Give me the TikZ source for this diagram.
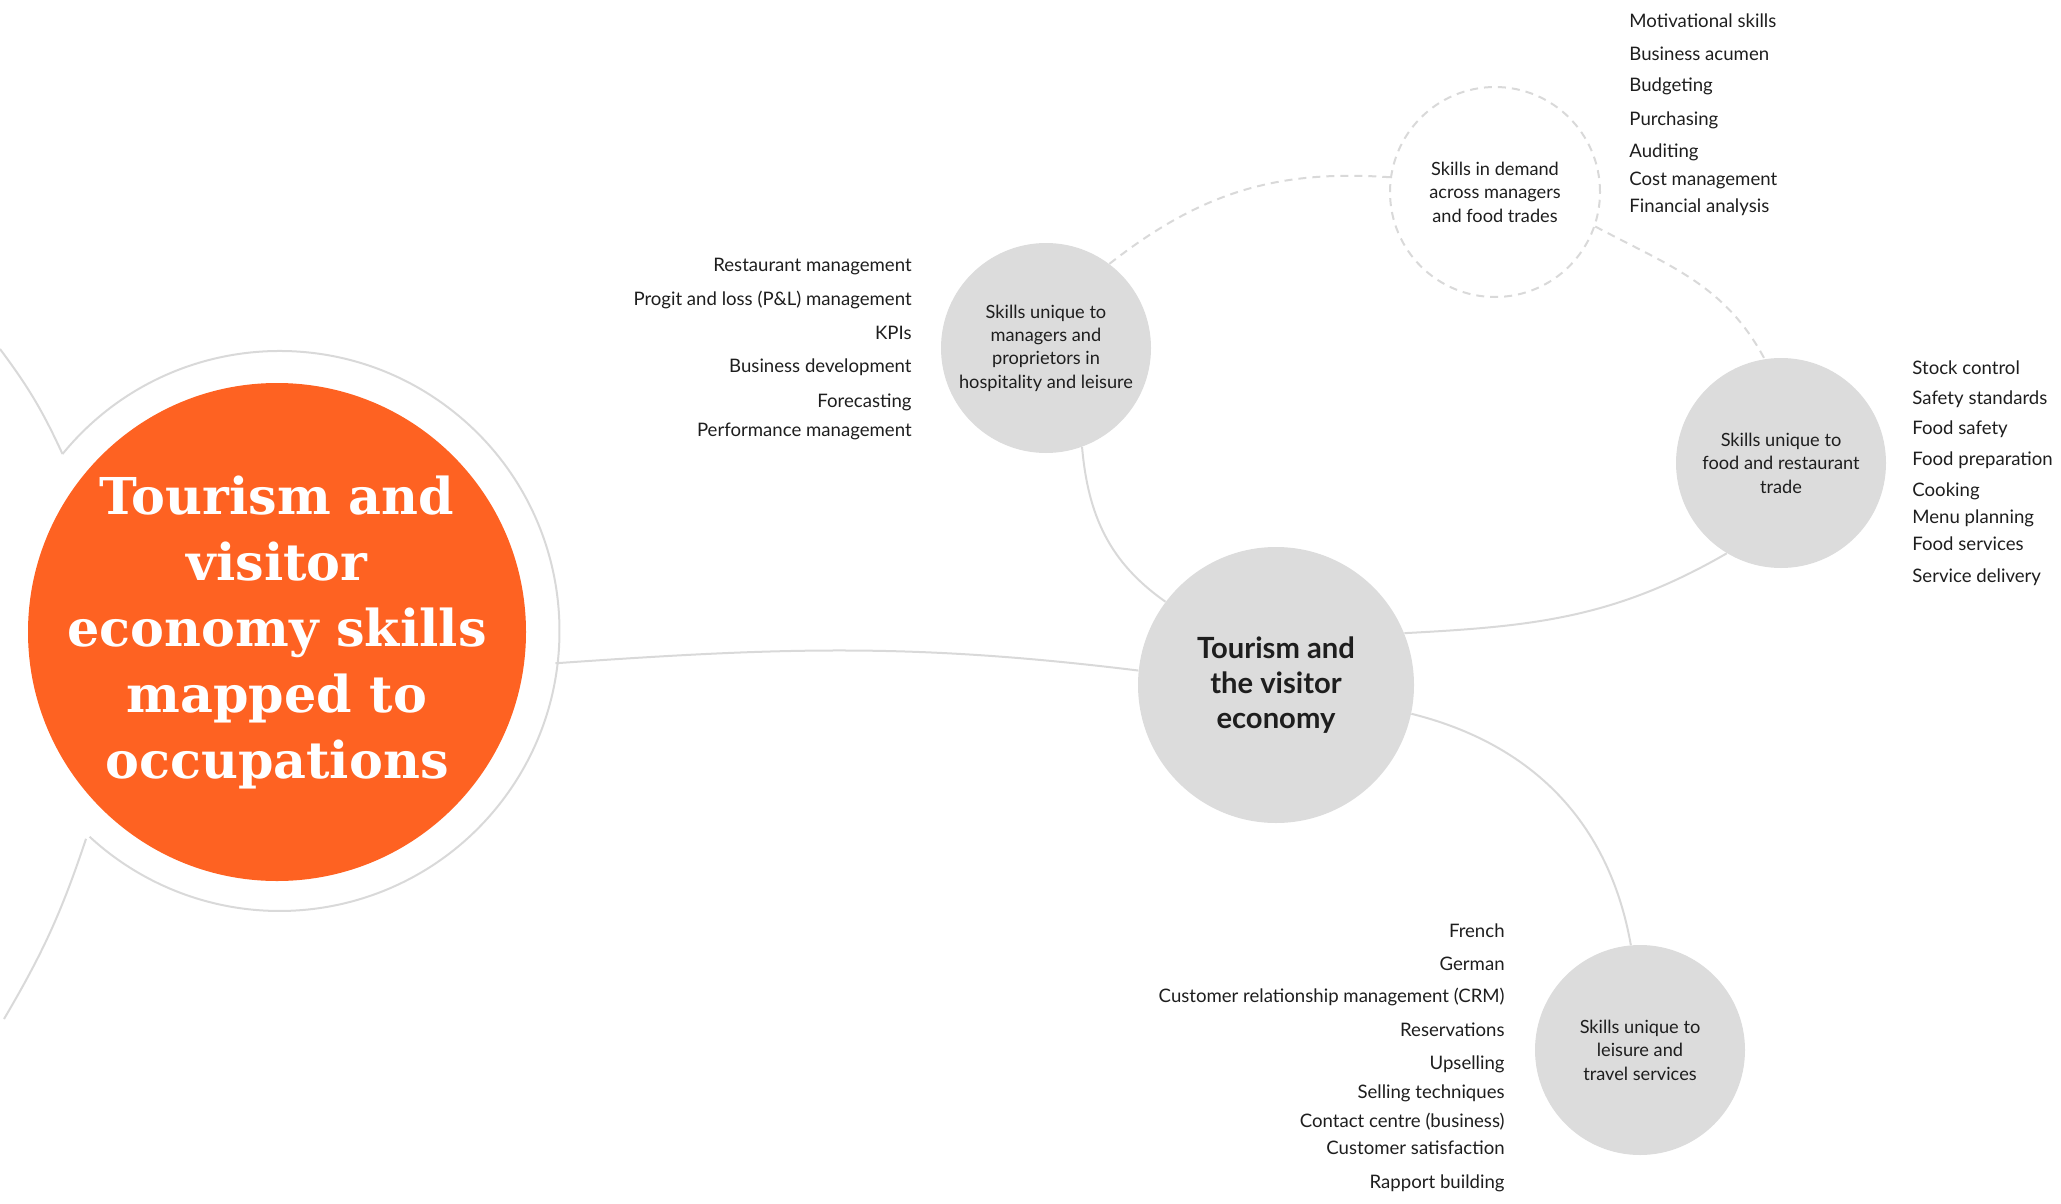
\documentclass[tikz,border=0pt]{standalone}
\usepackage{fontspec}
\setmainfont{Lato}
\newfontfamily\titlefont{DejaVu Serif}
\usepackage{xcolor}
\usepackage{tikz}
\definecolor{bubblegrey}{RGB}{220,220,220}
\definecolor{linkgrey}{RGB}{217,217,217}
\definecolor{tvorange}{RGB}{254,98,34}
\definecolor{listtext}{RGB}{30,30,30}
\tikzset{
	bubble/.style={circle,fill=bubblegrey,minimum size=105pt,inner sep=0pt,align=center,
		text=listtext,font=\fontsize{9.1}{11.7}\selectfont},
	demandbubble/.style={bubble,fill=none,draw=linkgrey,line width=1pt,dash pattern=on 4pt off 3pt},
	link/.style={draw=linkgrey,line width=1pt},
	dlink/.style={link,dash pattern=on 4pt off 3pt},
	skill/.style={inner sep=0pt,text=listtext,font=\fontsize{9.3}{11}\selectfont},
}

\begin{document}
\begin{tikzpicture}[x=0.5pt,y=-0.5pt]
		\useasboundingbox (0,0) rectangle (2061,1204);
		\node [circle,inner sep=0pt,outer sep=0pt,minimum size=280pt] (ring) at (277,634) {};
		\node [circle,fill=tvorange,inner sep=0pt,minimum size=249pt] (disc) at (277,632) {};
		\node [align=center,text=white,inner sep=0pt,
			font=\titlefont\bfseries\fontsize{25.4}{33}\selectfont] (title) at (disc)
			{Tourism and\\visitor\\economy skills\\mapped to\\occupations};
		\node [bubble,minimum size=138pt,font=\fontsize{14.6}{17.5}\selectfont\bfseries] (hub) at (1276,685)
			{Tourism and\\the visitor\\economy};
		\node [bubble] (managers) at (1046,348) {Skills unique to\\managers and\\proprietors in\\hospitality and leisure};
		\node [demandbubble] (demand) at (1495,192) {Skills in demand\\across managers\\and food trades};
		\node [bubble] (food) at (1781,463) {Skills unique to\\food and restaurant\\trade};
		\node [bubble] (leisure) at (1640,1050) {Skills unique to\\leisure and\\travel services};

		\coordinate (offtop) at (0,349);
		\coordinate (offbottom) at (4,1019);
		\draw [link] (ring.140.8) arc[start angle=140.8,end angle=-132.7,radius=140pt];
		\draw [link] (offtop) to[bend left=6] (ring.140.8);
		\draw [link] (ring.227.3) to[bend left=6] (offbottom);
		\draw [link] (ring.-6.3) to[out=4,in=173] (hub.174);
		\draw [link] (managers.-70) to[out=-85,in=145] (hub.143);
		\draw [link] (hub.22) to[out=3,in=210] (food.239);
		\draw [link] (hub.-12) to[out=-14,in=100] (leisure.95);
		\draw [dlink] (managers.53) to[out=38,in=176] (demand.172);
		\draw [dlink] (demand.-19) to[out=-28,in=118] (food.99);

		\foreach \y/\t [count=\i] in {266/Restaurant management,300/Progit and loss (P\&L) management,
			334/KPIs,367/Business development,402/Forecasting,431/Performance management}
			\node [skill,anchor=mid east] (mskill\i) at (912,\y) {\t};
		\foreach \y/\t [count=\i] in {22/Motivational skills,55/Business acumen,86/Budgeting,120/Purchasing,
			152/Auditing,180/Cost management,207/Financial analysis}
			\node [skill,anchor=mid west] (dskill\i) at (1629,\y) {\t};
		\foreach \y/\t [count=\i] in {369/Stock control,399/Safety standards,429/Food safety,460/Food preparation,
			491/Cooking,518/Menu planning,545/Food services,577/Service delivery}
			\node [skill,anchor=mid west] (fskill\i) at (1912,\y) {\t};
		\foreach \y/\t [count=\i] in {932/French,965/German,997/Customer relationship management (CRM),
			1031/Reservations,1064/Upselling,1093/Selling techniques,1122/Contact centre (business),
			1149/Customer satisfaction,1183/Rapport building}
			\node [skill,anchor=mid east] (lskill\i) at (1505,\y) {\t};
	\end{tikzpicture}
\end{document}
